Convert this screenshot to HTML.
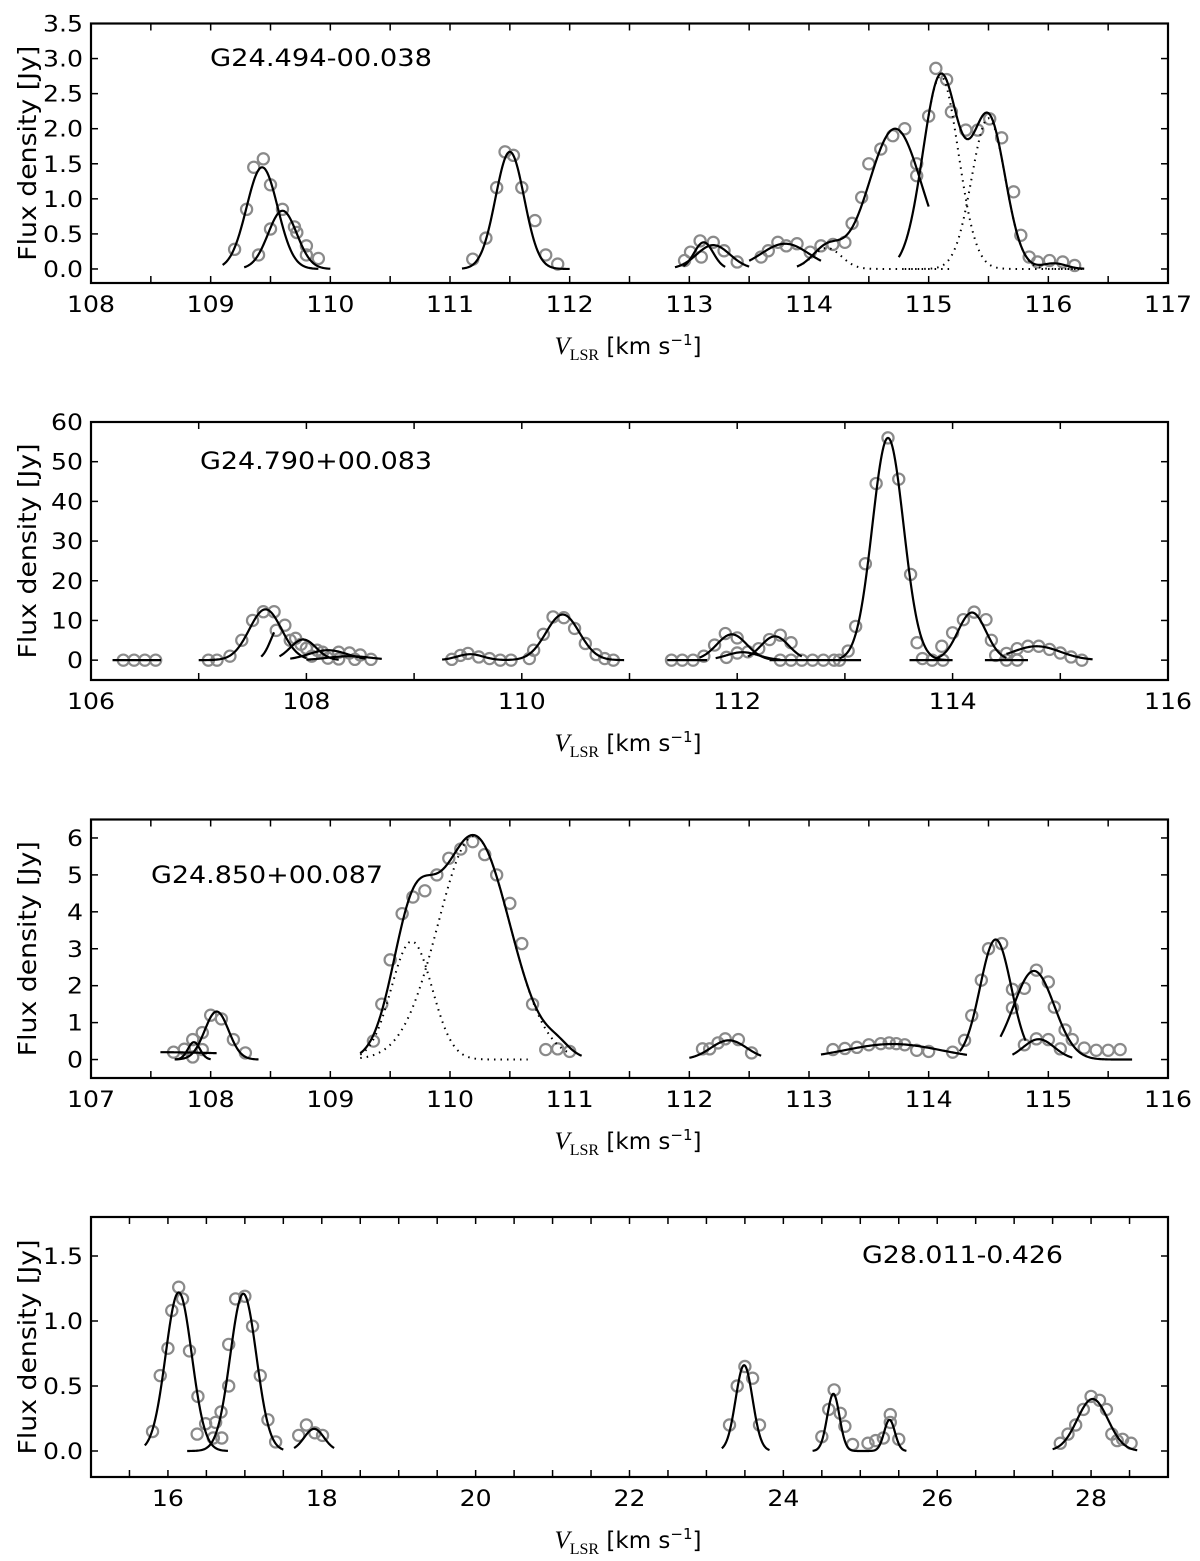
<!DOCTYPE html>
<html><head><meta charset="utf-8">
<style>
html,body{margin:0;padding:0;background:#fff;}
svg{display:block;font-family:"DejaVu Sans","Liberation Sans",sans-serif;}
</style></head>
<body>
<svg id="fig" width="1200" height="1561" viewBox="0 0 1200 1561" xmlns="http://www.w3.org/2000/svg"></svg>
<script>
// ---------- Panel 1: G24.494-00.038 ----------
const p1Vel=[109.2,109.3,109.36,109.44,109.5,109.4,109.5,109.6,109.7,109.72,109.8,109.8,109.9,
 111.19,111.3,111.39,111.46,111.53,111.6,111.71,111.8,111.9,
 112.96,113.01,113.09,113.1,113.2,113.29,113.4,113.6,113.66,113.74,113.81,113.9,114.01,114.1,114.2,114.3,114.36,114.44,114.5,114.6,114.7,114.8,114.9,114.9,115.0,115.06,115.15,115.19,115.31,115.41,115.51,115.61,115.71,115.77,115.84,115.91,116.01,116.12,116.22];
const p1Flux=[0.28,0.85,1.45,1.57,1.2,0.2,0.57,0.85,0.6,0.52,0.33,0.2,0.15,
 0.14,0.44,1.16,1.67,1.62,1.16,0.69,0.2,0.07,
 0.12,0.24,0.40,0.17,0.38,0.26,0.1,0.17,0.26,0.38,0.33,0.36,0.24,0.33,0.35,0.38,0.65,1.02,1.5,1.71,1.9,2.0,1.5,1.33,2.18,2.86,2.7,2.24,1.98,1.98,2.14,1.87,1.1,0.48,0.17,0.1,0.12,0.1,0.05];
const p1FitAmp=[[1.45],[0.83],[1.67],[0.34],[0.38],[0.36],[0.3,2.0],[2.75,2.15,0.08]];
const p1FitCen=[[109.43],[109.6],[111.5],[113.2],[113.12],[113.8],[114.15,114.72],[115.1,115.5,116.05]];
const p1FitSig=[[0.13],[0.12],[0.12],[0.14],[0.08],[0.2],[0.12,0.22],[0.148,0.14,0.1]];
const p1FitLo=[109.1,109.28,111.1,112.88,112.95,113.5,113.9,114.75];
const p1FitHi=[109.9,110.0,112.0,113.5,113.3,114.1,115.0,116.3];
const p1DotAmp=[[0.3],[2.75],[2.15]];
const p1DotCen=[[114.15],[115.1],[115.5]];
const p1DotSig=[[0.12],[0.148],[0.14]];
const p1DotLo=[113.9,115.0,114.8];
const p1DotHi=[115.2,116.3,116.3];
const p1XTicks=[108,109,110,111,112,113,114,115,116,117];
const p1XLabels=["108","109","110","111","112","113","114","115","116","117"];
const p1YTicks=[0,0.5,1,1.5,2,2.5,3,3.5];
const p1YLabels=["0.0","0.5","1.0","1.5","2.0","2.5","3.0","3.5"];

// ---------- Panel 2: G24.790+00.083 ----------
const p2Vel=[106.3,106.4,106.5,106.6,
 107.09,107.17,107.29,107.4,107.5,107.6,107.7,107.72,107.8,107.85,107.9,107.95,108.0,108.05,108.1,108.15,108.2,108.3,108.3,108.4,108.45,108.5,108.6,
 109.35,109.43,109.5,109.6,109.7,109.8,109.9,110.07,110.11,110.2,110.29,110.39,110.49,110.59,110.69,110.77,110.85,
 111.39,111.49,111.59,111.69,111.79,111.89,112.0,111.9,112.0,112.1,112.2,112.3,112.4,112.5,112.4,112.5,112.6,112.7,112.8,112.9,112.95,113.03,113.1,113.19,113.29,113.4,113.5,113.61,113.67,113.72,113.81,113.91,113.9,114.0,114.1,114.2,114.31,114.36,114.4,114.5,114.6,114.5,114.6,114.7,114.8,114.9,115.0,115.1,115.2];
const p2Flux=[0,0,0,0,
 0,0,1,5,10,12.2,12.2,7.5,8.8,5,5.5,4,3,1,2.5,2,0.5,2,0.3,1.8,0.2,1.3,0.2,
 0.2,1.2,1.7,0.8,0.4,0,0,0.4,2.5,6.5,10.9,10.7,8,4.2,1.4,0.4,0,
 0,0,0,1,3.8,6.7,5.6,0.7,1.8,2.1,2.9,5.2,6.3,4.4,0,0,0,0,0,0,0,2.3,8.5,24.3,44.5,56,45.6,21.6,4.4,0.4,0,0,3.5,6.9,10.2,12.1,10.2,5,1.2,0,0,1.7,2.9,3.5,3.5,2.7,1.8,0.8,0];
const p2FitAmp=[[0],[12.8],[8.5],[5.2],[2.5],[1],[1.5,11.5],[0],[6.5],[2],[6],[0],[56],[0],[12],[0],[3.5]];
const p2FitCen=[[106.4],[107.62],[107.75],[107.97],[108.2],[108.4],[109.52,110.38],[111.5],[111.95],[112.05],[112.35],[112.7],[113.4],[113.8],[114.18],[114.5],[114.78]];
const p2FitSig=[[0.1],[0.15],[0.08],[0.12],[0.18],[0.2],[0.12,0.155],[0.1],[0.14],[0.15],[0.13],[0.1],[0.145],[0.1],[0.13],[0.1],[0.22]];
const p2FitLo=[106.2,107.0,107.58,107.75,107.85,108.0,109.26,111.35,111.65,111.8,112.1,112.3,112.95,113.6,113.85,114.3,114.5];
const p2FitHi=[106.65,108.0,107.7,108.3,108.55,108.7,110.95,111.72,112.3,112.4,112.6,113.15,113.95,114.0,114.5,114.7,115.3];
const p2XTicks=[106,108,110,112,114,116];
const p2XLabels=["106","108","110","112","114","116"];
const p2YTicks=[0,10,20,30,40,50,60];
const p2YLabels=["0","10","20","30","40","50","60"];

// ---------- Panel 3: G24.850+00.087 ----------
const p3Vel=[107.69,107.78,107.85,107.85,107.93,107.93,108.0,108.09,108.19,108.29,
 109.36,109.43,109.5,109.6,109.69,109.79,109.89,109.99,110.09,110.19,110.29,110.39,110.5,110.6,110.69,110.8,110.9,111.0,
 112.11,112.17,112.24,112.3,112.41,112.52,
 113.2,113.3,113.4,113.5,113.6,113.67,113.73,113.8,113.9,114.0,114.2,114.3,114.36,114.44,114.5,114.61,114.7,114.7,114.8,114.9,115.0,115.05,115.14,115.2,114.8,114.9,115.0,115.1,115.3,115.4,115.5,115.6];
const p3Flux=[0.2,0.28,0.07,0.54,0.73,0.27,1.2,1.1,0.54,0.18,
 0.5,1.5,2.7,3.95,4.4,4.57,5.0,5.45,5.7,5.9,5.55,5.0,4.23,3.14,1.5,0.27,0.29,0.22,
 0.29,0.29,0.45,0.56,0.54,0.18,
 0.27,0.3,0.33,0.4,0.43,0.45,0.43,0.4,0.25,0.22,0.2,0.52,1.19,2.15,3.0,3.14,1.9,1.4,1.93,2.42,2.1,1.42,0.8,0.54,0.4,0.56,0.54,0.29,0.31,0.25,0.25,0.27];
const p3FitAmp=[[0.2],[0.47],[1.3],[3.2,6.05,0.25],[0.52],[0.42],[3.25],[2.4],[0.55]];
const p3FitCen=[[107.5],[107.86],[108.05],[109.68,110.2,110.9],[112.33],[113.7],[114.56],[114.88],[114.92]];
const p3FitSig=[[1.0],[0.05],[0.1],[0.17,0.3,0.1],[0.15],[0.4],[0.13],[0.17],[0.13]];
const p3FitLo=[107.58,107.7,107.7,109.25,112.0,113.1,114.26,114.6,114.7];
const p3FitHi=[108.05,108.0,108.4,111.1,112.6,114.32,114.81,115.7,115.2];
const p3DotAmp=[[3.2],[6.05]];
const p3DotCen=[[109.68],[110.2]];
const p3DotSig=[[0.17],[0.3]];
const p3DotLo=[109.25,109.25];
const p3DotHi=[110.65,111.0];
const p3XTicks=[107,108,109,110,111,112,113,114,115,116];
const p3XLabels=["107","108","109","110","111","112","113","114","115","116"];
const p3YTicks=[0,1,2,3,4,5,6];
const p3YLabels=["0","1","2","3","4","5","6"];

// ---------- Panel 4: G28.011-0.426 ----------
const p4Vel=[15.8,15.9,16.0,16.05,16.14,16.19,16.28,16.39,16.38,16.49,16.59,16.62,16.7,16.69,16.79,16.79,16.88,17.0,17.1,17.2,17.3,17.4,17.7,17.8,17.91,18.01,
 23.3,23.4,23.5,23.6,23.69,24.5,24.59,24.66,24.74,24.8,24.9,25.1,25.2,25.3,25.39,25.39,25.5,
 27.6,27.7,27.8,27.9,28.0,28.11,28.2,28.27,28.34,28.41,28.52];
const p4Flux=[0.15,0.58,0.79,1.08,1.26,1.17,0.77,0.42,0.13,0.21,0.1,0.22,0.1,0.3,0.5,0.82,1.17,1.19,0.96,0.58,0.24,0.07,0.12,0.2,0.14,0.12,
 0.2,0.5,0.65,0.56,0.2,0.11,0.32,0.47,0.29,0.19,0.05,0.06,0.08,0.1,0.28,0.22,0.09,
 0.06,0.13,0.2,0.32,0.42,0.39,0.32,0.13,0.08,0.09,0.06];
const p4FitAmp=[[1.22],[1.21],[0.17],[0.66],[0.44,0.24],[0.4]];
const p4FitCen=[[16.14],[16.98],[17.9],[23.49],[24.65,25.38],[28.02]];
const p4FitSig=[[0.17],[0.17],[0.13],[0.11],[0.08,0.07],[0.2]];
const p4FitLo=[15.7,16.25,17.64,23.2,24.38,27.5];
const p4FitHi=[16.78,17.5,18.16,23.82,25.6,28.6];
const p4XTicks=[16,18,20,22,24,26,28];
const p4XLabels=["16","18","20","22","24","26","28"];
const p4YTicks=[0,0.5,1,1.5];
const p4YLabels=["0.0","0.5","1.0","1.5"];

// ---------- layout (not data) ----------
const NS="http://www.w3.org/2000/svg";
const svg=document.getElementById('fig');
const LEFT=91, RIGHT=1168;
const panels=[
 {id:'p1',top:23.5,bot:283,x0:108,x1:117,y0:-0.2,y1:3.5,minor:0.5,title:"G24.494-00.038",tx:210,ty:66,tw:222,
  vel:p1Vel,flux:p1Flux,fa:p1FitAmp,fc:p1FitCen,fs:p1FitSig,flo:p1FitLo,fhi:p1FitHi,
  da:p1DotAmp,dc:p1DotCen,ds:p1DotSig,dlo:p1DotLo,dhi:p1DotHi,xt:p1XTicks,xl:p1XLabels,yt:p1YTicks,yl:p1YLabels},
 {id:'p2',top:422,bot:680,x0:106,x1:116,y0:-5,y1:60,minor:1,title:"G24.790+00.083",tx:200,ty:469,tw:232,
  vel:p2Vel,flux:p2Flux,fa:p2FitAmp,fc:p2FitCen,fs:p2FitSig,flo:p2FitLo,fhi:p2FitHi,
  da:[],dc:[],ds:[],dlo:[],dhi:[],xt:p2XTicks,xl:p2XLabels,yt:p2YTicks,yl:p2YLabels},
 {id:'p3',top:819.5,bot:1078,x0:107,x1:116,y0:-0.5,y1:6.5,minor:0.5,title:"G24.850+00.087",tx:151,ty:883,tw:232,
  vel:p3Vel,flux:p3Flux,fa:p3FitAmp,fc:p3FitCen,fs:p3FitSig,flo:p3FitLo,fhi:p3FitHi,
  da:p3DotAmp,dc:p3DotCen,ds:p3DotSig,dlo:p3DotLo,dhi:p3DotHi,xt:p3XTicks,xl:p3XLabels,yt:p3YTicks,yl:p3YLabels},
 {id:'p4',top:1217,bot:1477,x0:15,x1:29,y0:-0.2,y1:1.8,minor:0.5,title:"G28.011-0.426",tx:862,ty:1263,tw:201,
  vel:p4Vel,flux:p4Flux,fa:p4FitAmp,fc:p4FitCen,fs:p4FitSig,flo:p4FitLo,fhi:p4FitHi,
  da:[],dc:[],ds:[],dlo:[],dhi:[],xt:p4XTicks,xl:p4XLabels,yt:p4YTicks,yl:p4YLabels}
];

function mk(tag,attrs,parent){const e=document.createElementNS(NS,tag);for(const k in attrs)e.setAttribute(k,attrs[k]);(parent||svg).appendChild(e);return e;}
function labelWidth(s){let w=0;for(const c of s)w+=(c==='.')?8:16;return w;}
function gsum(a,c,s,v){let y=0;for(let i=0;i<a.length;i++)y+=a[i]*Math.exp(-Math.pow(v-c[i],2)/(2*s[i]*s[i]));return y;}

panels.forEach(p=>{
  const g=mk('g',{});
  
  
  const xs=v=>LEFT+(v-p.x0)/(p.x1-p.x0)*(RIGHT-LEFT);
  const ys=v=>p.bot-(v-p.y0)/(p.y1-p.y0)*(p.bot-p.top);
  // ticks
  const tg=mk('g',{stroke:'#000','stroke-width':1.5},g);
  
  
  const nMinor=Math.round((p.x1-p.x0)/p.minor);
  for(let i=0;i<=nMinor;i++){const x=xs(p.x0+i*p.minor);
    mk('line',{x1:x,x2:x,y1:p.bot,y2:p.bot-7},tg);mk('line',{x1:x,x2:x,y1:p.top,y2:p.top+7},tg);}
  p.yt.forEach(v=>{const y=ys(v);mk('line',{x1:LEFT,x2:LEFT+7,y1:y,y2:y},tg);mk('line',{x1:RIGHT,x2:RIGHT-7,y1:y,y2:y},tg);});
  // tick labels
  p.xt.forEach((v,i)=>{const t=mk('text',{x:xs(v),y:p.bot+29,'text-anchor':'middle','font-size':22,textLength:labelWidth(p.xl[i]),lengthAdjust:'spacingAndGlyphs'},g);
    
    
    t.textContent=p.xl[i];});
  p.yt.forEach((v,i)=>{const t=mk('text',{x:83,y:ys(v)+8,'text-anchor':'end','font-size':22,textLength:labelWidth(p.yl[i]),lengthAdjust:'spacingAndGlyphs'},g);
    
    
    t.textContent=p.yl[i];});
  // y label
  const yc=(p.top+p.bot)/2;
  const yl=mk('text',{x:0,y:0,'text-anchor':'middle','font-size':25,textLength:215,lengthAdjust:'spacingAndGlyphs',transform:`translate(36,${yc}) rotate(-90)`},g);
  
  
  yl.textContent='Flux density [Jy]';
  // x label
  const xl=mk('text',{x:628,y:p.bot+71,'text-anchor':'middle','font-size':23},g);
  
  
  xl.innerHTML='<tspan font-family="Liberation Serif, serif" font-style="italic" font-size="25">V</tspan><tspan font-family="Liberation Serif, serif" font-size="16" dy="6">LSR</tspan><tspan dy="-6"> [km s</tspan><tspan font-size="15" dy="-9">−1</tspan><tspan dy="9">]</tspan>';
  // title
  const tt=mk('text',{x:p.tx,y:p.ty,'font-size':24,textLength:p.tw,lengthAdjust:'spacingAndGlyphs'},g);
  
  
  tt.textContent=p.title;
  // data points
  const dg=mk('g',{fill:'none',stroke:'#8a8a8a','stroke-width':2.2},g);
  
  
  p.vel.forEach((v,i)=>{const c=mk('circle',{cx:xs(v),cy:ys(p.flux[i]),r:5.6},dg);
    
    });
  // fits
  function curve(a,c,s,lo,hi,dotted,name){
    let d='';const N=120;
    for(let k=0;k<=N;k++){const v=lo+(hi-lo)*k/N;d+=(k?'L':'M')+xs(v).toFixed(2)+','+ys(gsum(a,c,s,v)).toFixed(2);}
    const pa=mk('path',{d:d,fill:'none',stroke:'#000','stroke-width':dotted?2:2.2},g);
    if(dotted){pa.setAttribute('stroke-dasharray','1.5,5');}
    
    
  }
  p.fa.forEach((a,i)=>curve(a,p.fc[i],p.fs[i],p.flo[i],p.fhi[i],false,'gaussian-fit'));
  p.da.forEach((a,i)=>curve(a,p.dc[i],p.ds[i],p.dlo[i],p.dhi[i],true,'gaussian-component'));
  // frame
  const fr=mk('rect',{x:LEFT,y:p.top,width:RIGHT-LEFT,height:p.bot-p.top,fill:'none',stroke:'#000','stroke-width':2.2},g);
  
  
});
</script>
</body></html>
